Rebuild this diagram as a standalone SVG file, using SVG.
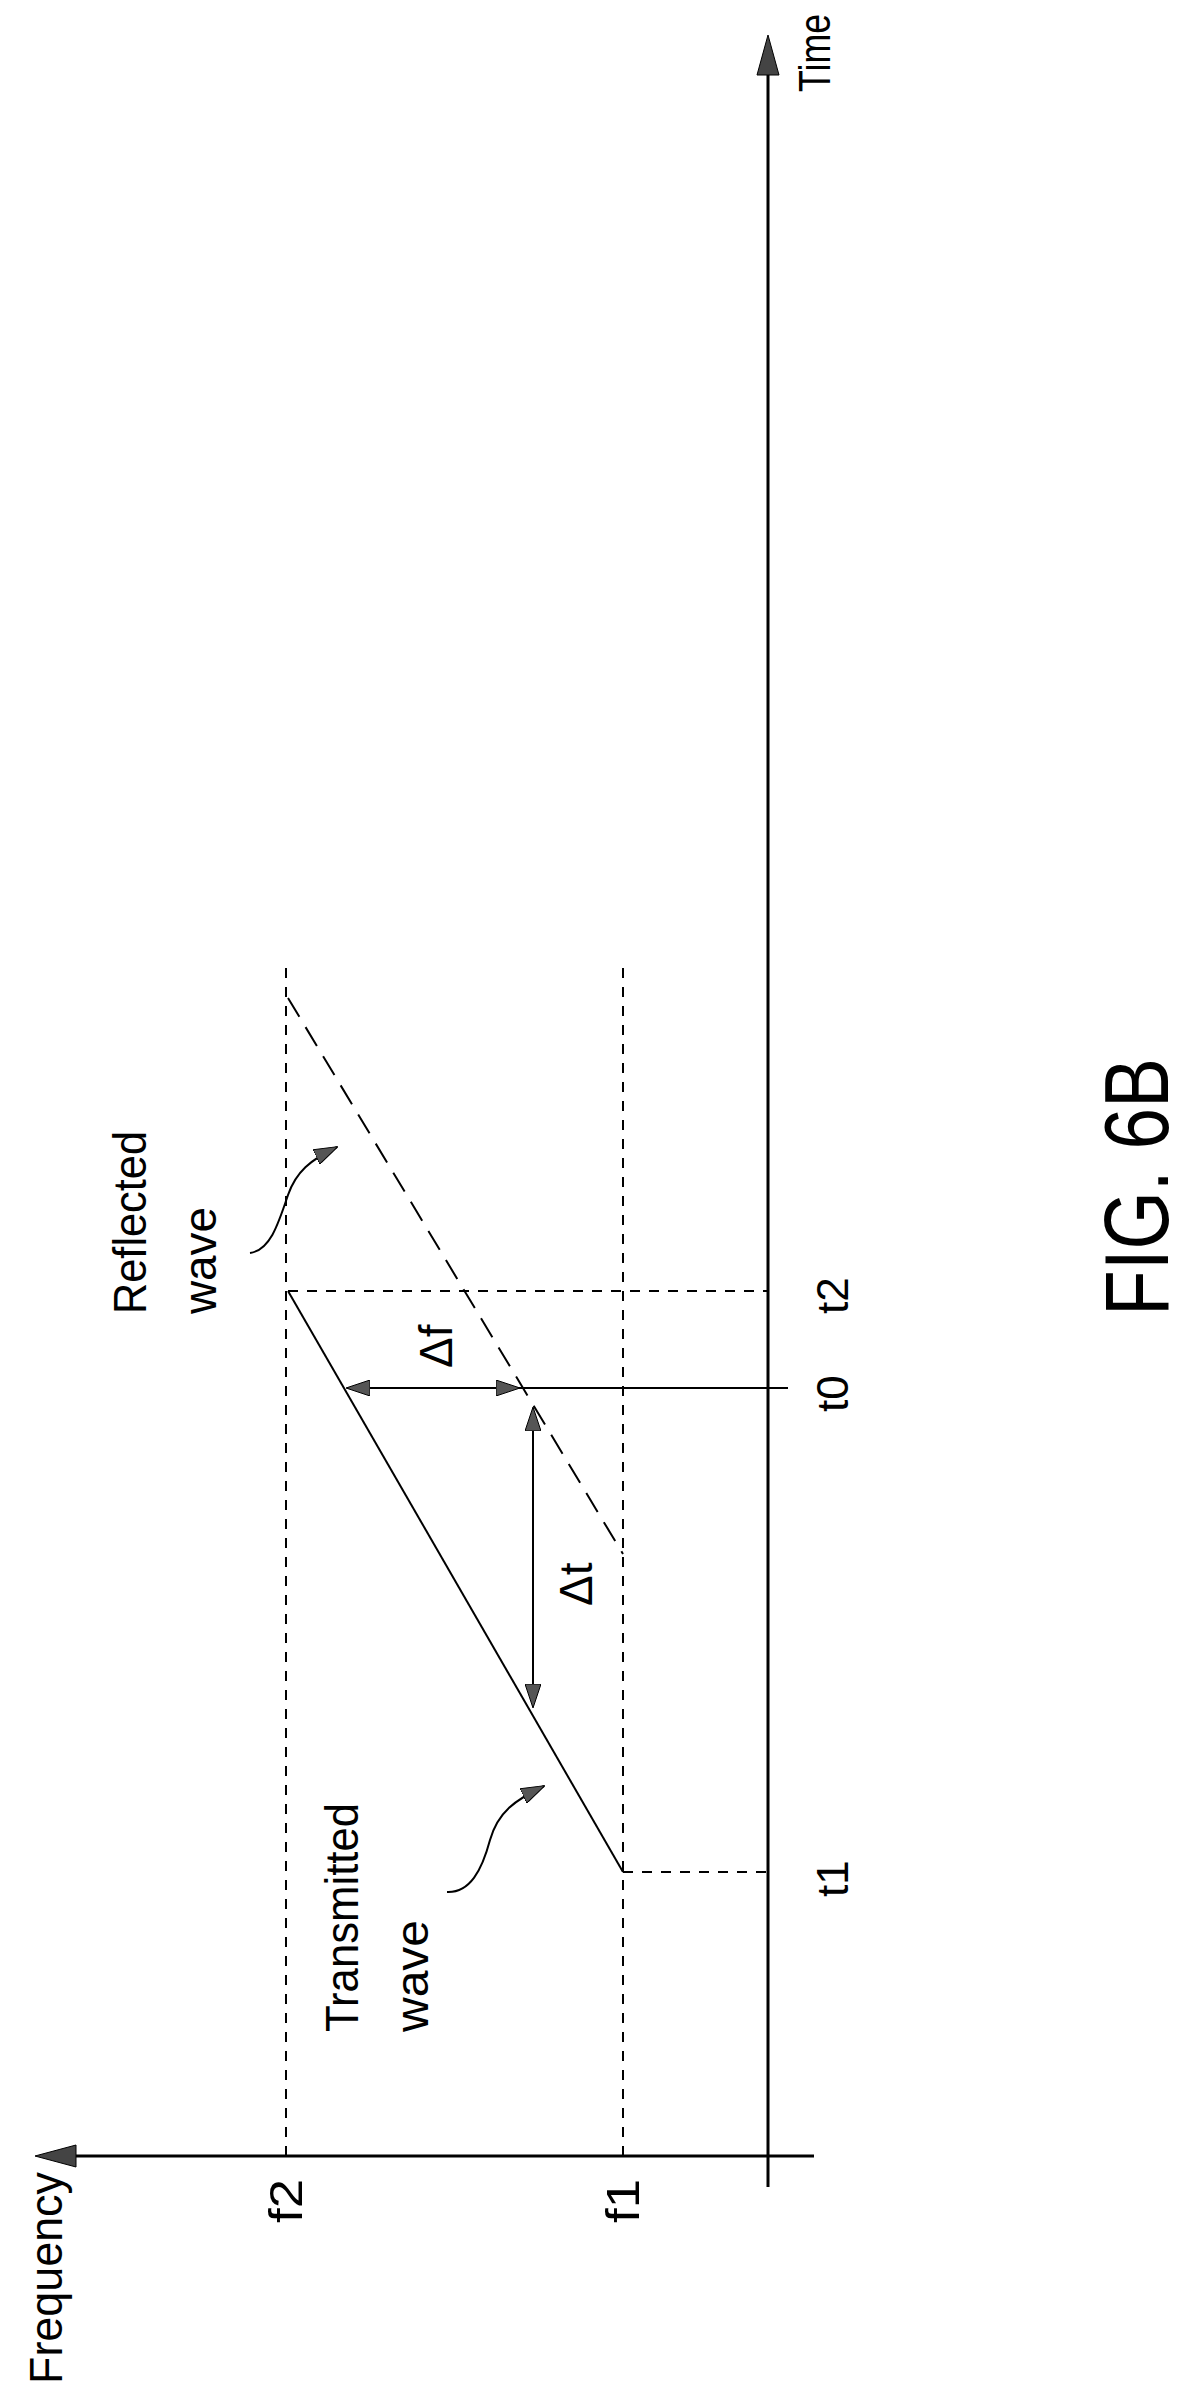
<svg xmlns="http://www.w3.org/2000/svg" width="1186" height="2391" viewBox="0 0 1186 2391">
<style>
.ln{stroke:#000;fill:none;stroke-width:2}
.ax{stroke:#000;fill:none;stroke-width:3}
.sd{stroke:#000;fill:none;stroke-width:2;stroke-dasharray:10 9}
.ld{stroke:#000;fill:none;stroke-width:2;stroke-dasharray:22 12}
text{font-family:"Liberation Sans",Arial,sans-serif;fill:#000}
</style>
<defs>
<marker id="ah" markerWidth="24" markerHeight="16" refX="23" refY="8" orient="auto" markerUnits="userSpaceOnUse"><path d="M0,0 L24,8 L0,16 Z" fill="#555" stroke="#000" stroke-width="1"/></marker>
<marker id="ahs" markerWidth="24" markerHeight="16" refX="1" refY="8" orient="auto" markerUnits="userSpaceOnUse"><path d="M24,0 L0,8 L24,16 Z" fill="#555" stroke="#000" stroke-width="1"/></marker>
</defs>
<g id="axes">
<line class="ax" x1="814" y1="2156" x2="70" y2="2156"/>
<path d="M35,2156 L76,2145 L76,2167 Z" fill="#444" stroke="#000"/>
<line class="ax" x1="768" y1="2187" x2="768" y2="72"/>
<path d="M768,35 L757,75 L779,75 Z" fill="#444" stroke="#000"/>
</g>
<g id="connectors">
<line class="sd" x1="286" y1="2156" x2="286" y2="968"/>
<line class="sd" x1="623" y1="2156" x2="623" y2="968"/>
<line class="ln" x1="288" y1="1291" x2="623" y2="1872"/>
<line class="ld" x1="288" y1="998" x2="623" y2="1554"/>
<line class="sd" x1="623" y1="1872" x2="768" y2="1872"/>
<line class="sd" x1="288" y1="1291" x2="768" y2="1291"/>
<line class="ln" x1="519" y1="1388" x2="788" y2="1388"/>
<line class="ln" x1="347" y1="1388" x2="519" y2="1388" marker-start="url(#ahs)" marker-end="url(#ah)"/>
<line class="ln" x1="533" y1="1408" x2="533" y2="1707" marker-start="url(#ahs)" marker-end="url(#ah)"/>
<path class="ln" d="M250,1253 C270,1250 278,1225 288,1195 C296,1172 310,1160 337,1147" marker-end="url(#ah)"/>
<path class="ln" d="M447,1892 C470,1893 482,1870 490,1840 C498,1812 515,1800 544,1786" marker-end="url(#ah)"/>
</g>
<g id="labels">
<text transform="translate(830,92) rotate(-90)" font-size="44" textLength="78" lengthAdjust="spacingAndGlyphs">Time</text>
<text transform="translate(62,2384) rotate(-90)" font-size="46" textLength="212" lengthAdjust="spacingAndGlyphs">Frequency</text>
<text transform="translate(302,2223) rotate(-90)" font-size="46" textLength="44" lengthAdjust="spacingAndGlyphs">f2</text>
<text transform="translate(639,2223) rotate(-90)" font-size="46" textLength="44" lengthAdjust="spacingAndGlyphs">f1</text>
<text transform="translate(848,1897) rotate(-90)" font-size="44">t1</text>
<text transform="translate(848,1314) rotate(-90)" font-size="44">t2</text>
<text transform="translate(848,1412) rotate(-90)" font-size="44">t0</text>
<text transform="translate(452,1368) rotate(-90)" font-size="46">Δf</text>
<text transform="translate(592,1606) rotate(-90)" font-size="46">Δt</text>
<text transform="translate(146,1314) rotate(-90)" font-size="46" textLength="183" lengthAdjust="spacingAndGlyphs">Reflected</text>
<text transform="translate(216,1314) rotate(-90)" font-size="46" textLength="107" lengthAdjust="spacingAndGlyphs">wave</text>
<text transform="translate(358,2032) rotate(-90)" font-size="46" textLength="229" lengthAdjust="spacingAndGlyphs">Transmitted</text>
<text transform="translate(428,2032) rotate(-90)" font-size="46" textLength="112" lengthAdjust="spacingAndGlyphs">wave</text>
<text transform="translate(1168,1316) rotate(-90)" font-size="90" textLength="258" lengthAdjust="spacingAndGlyphs">FIG. 6B</text>
</g>
</svg>
